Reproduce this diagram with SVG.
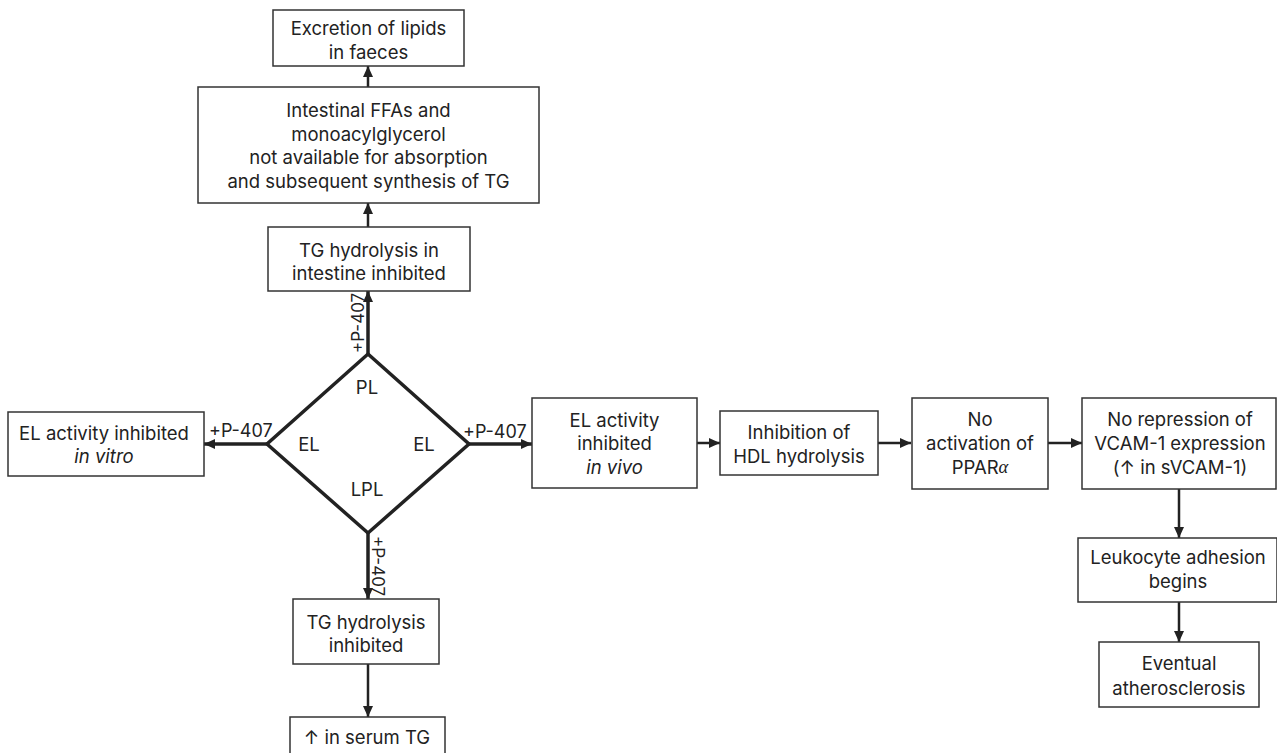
<svg xmlns="http://www.w3.org/2000/svg" width="1277" height="753" viewBox="0 0 1277 753">
<style>
.box{fill:#fff;stroke:#333;stroke-width:1.5}
.t{font-family:Inter,"Open Sans","DejaVu Sans",sans-serif;font-size:18.5px;fill:#222;text-anchor:middle;dominant-baseline:central}
.lbl{font-family:Inter,"Open Sans","DejaVu Sans",sans-serif;font-size:18px;fill:#222}
.lblv{font-family:Inter,"Open Sans","DejaVu Sans",sans-serif;font-size:17px;fill:#222}
.c{stroke:#222;stroke-width:2.5;fill:none}
.ct{stroke:#222;stroke-width:3.5;fill:none}
.dia{fill:#fff;stroke:#222;stroke-width:3.5;stroke-linejoin:miter}
</style>
<defs>
<marker id="ah" markerUnits="userSpaceOnUse" markerWidth="11" markerHeight="10" refX="11" refY="5" orient="auto">
<path d="M0,0 L11,5 L0,10 z" fill="#222"/>
</marker>
</defs>
<rect width="1277" height="753" fill="#fff"/>
<g id="connectors">
<line class="c" x1="368" y1="87" x2="368" y2="66" marker-end="url(#ah)"/>
<line class="c" x1="368" y1="227" x2="368" y2="203" marker-end="url(#ah)"/>
<line class="ct" x1="368" y1="354" x2="368" y2="291" marker-end="url(#ah)"/>
<line class="ct" x1="267" y1="444" x2="204" y2="444" marker-end="url(#ah)"/>
<line class="ct" x1="469" y1="444" x2="532" y2="444" marker-end="url(#ah)"/>
<line class="ct" x1="368" y1="533" x2="368" y2="599" marker-end="url(#ah)"/>
<line class="c" x1="368" y1="664" x2="368" y2="717" marker-end="url(#ah)"/>
<line class="c" x1="697" y1="443" x2="720" y2="443" marker-end="url(#ah)"/>
<line class="c" x1="878" y1="443" x2="911" y2="443" marker-end="url(#ah)"/>
<line class="c" x1="1048" y1="443" x2="1082" y2="443" marker-end="url(#ah)"/>
<line class="c" x1="1179" y1="489" x2="1179" y2="538" marker-end="url(#ah)"/>
<line class="c" x1="1179" y1="602" x2="1179" y2="642" marker-end="url(#ah)"/>
<text class="lblv" transform="translate(364,353) rotate(-90)">+P-407</text>
<text class="lblv" transform="translate(372,536) rotate(90)">+P-407</text>
<text class="lbl" x="209" y="437">+P-407</text>
<text class="lbl" x="463" y="438">+P-407</text>
</g>
<g id="excretion">
<rect class="box" x="273" y="10" width="191" height="56"/>
<text class="t" x="368.5" y="28">Excretion of lipids</text>
<text class="t" x="368.5" y="52">in faeces</text>
</g>
<g id="intestinal">
<rect class="box" x="198" y="87" width="341" height="116"/>
<text class="t" x="368.5" y="110">Intestinal FFAs and</text>
<text class="t" x="368.5" y="134">monoacylglycerol</text>
<text class="t" x="368.5" y="157">not available for absorption</text>
<text class="t" x="368.5" y="181">and subsequent synthesis of TG</text>
</g>
<g id="tg-intestine">
<rect class="box" x="268" y="227" width="202" height="64"/>
<text class="t" x="369" y="250">TG hydrolysis in</text>
<text class="t" x="369" y="273">intestine inhibited</text>
</g>
<g id="diamond">
<polygon class="dia" points="368,354 469,444 368,533 267,444"/>
<text class="t" x="367" y="387">PL</text>
<text class="t" x="309" y="444">EL</text>
<text class="t" x="424" y="444">EL</text>
<text class="t" x="367" y="489">LPL</text>
</g>
<g id="el-vitro">
<rect class="box" x="8" y="412" width="196" height="64"/>
<text class="t" x="104" y="433">EL activity inhibited</text>
<text class="t" x="104" y="456" font-style="italic">in vitro</text>
</g>
<g id="el-vivo">
<rect class="box" x="532" y="398" width="165" height="90"/>
<text class="t" x="614.5" y="420">EL activity</text>
<text class="t" x="614.5" y="443">inhibited</text>
<text class="t" x="614.5" y="467" font-style="italic">in vivo</text>
</g>
<g id="hdl">
<rect class="box" x="720" y="411" width="158" height="64"/>
<text class="t" x="799" y="432">Inhibition of</text>
<text class="t" x="799" y="456">HDL hydrolysis</text>
</g>
<g id="ppar">
<rect class="box" x="912" y="398" width="136" height="91"/>
<text class="t" x="980" y="419">No</text>
<text class="t" x="980" y="443">activation of</text>
<text class="t" x="980" y="467">PPAR<tspan font-family="'Liberation Serif',serif" font-style="italic">α</tspan></text>
</g>
<g id="vcam">
<rect class="box" x="1082" y="398" width="194" height="91"/>
<text class="t" x="1180" y="419">No repression of</text>
<text class="t" x="1180" y="443">VCAM-1 expression</text>
<text class="t" x="1180" y="467">(↑ in sVCAM-1)</text>
</g>
<g id="leukocyte">
<rect class="box" x="1078" y="538" width="199" height="64"/>
<text class="t" x="1178" y="557">Leukocyte adhesion</text>
<text class="t" x="1178" y="581">begins</text>
</g>
<g id="athero">
<rect class="box" x="1099" y="642" width="160" height="65"/>
<text class="t" x="1179" y="663">Eventual</text>
<text class="t" x="1179" y="688">atherosclerosis</text>
</g>
<g id="tg-inhibited">
<rect class="box" x="293" y="599" width="146" height="65"/>
<text class="t" x="366" y="622">TG hydrolysis</text>
<text class="t" x="366" y="645">inhibited</text>
</g>
<g id="serum">
<rect class="box" x="290" y="717" width="155" height="45"/>
<text class="t" x="367" y="737">↑ in serum TG</text>
</g>
</svg>
